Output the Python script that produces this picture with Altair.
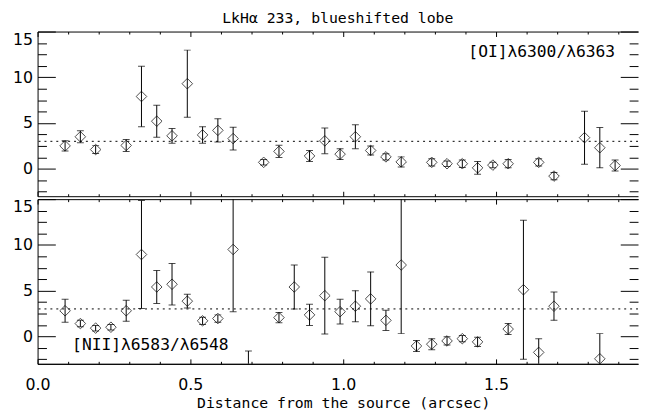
import altair as alt
import pandas as pd

# ---------------- data ----------------
top_x = [0.09, 0.14, 0.19, 0.29, 0.34, 0.39, 0.44, 0.49, 0.54, 0.59, 0.64, 0.74, 0.79,
         0.89, 0.94, 0.99, 1.04, 1.09, 1.14, 1.19, 1.29, 1.34, 1.39, 1.44, 1.49, 1.54,
         1.64, 1.69, 1.79, 1.84, 1.89]
top_y = [2.5, 3.5, 2.1, 2.55, 7.9, 5.2, 3.6, 9.3, 3.7, 4.2, 3.3, 0.7, 1.9,
         1.4, 3.05, 1.6, 3.5, 2.0, 1.3, 0.75, 0.7, 0.55, 0.55, 0.1, 0.4, 0.55,
         0.7, -0.8, 3.4, 2.3, 0.35]
top_err = [0.55, 0.65, 0.43, 0.65, 3.3, 1.75, 0.8, 3.67, 0.9, 1.27, 1.25, 0.3, 0.66,
           0.6, 1.4, 0.6, 1.3, 0.5, 0.35, 0.55, 0.4, 0.3, 0.4, 0.7, 0.3, 0.45,
           0.4, 0.4, 2.9, 2.2, 0.6]

bot_x = [0.09, 0.14, 0.19, 0.24, 0.29, 0.34, 0.39, 0.44, 0.49, 0.54, 0.59, 0.64, 0.69,
         0.79, 0.84, 0.89, 0.94, 0.99, 1.04, 1.09, 1.14, 1.19, 1.24, 1.29, 1.34, 1.39,
         1.44, 1.54, 1.59, 1.64, 1.69, 1.84]
bot_y = [2.8, 1.4, 0.9, 1.0, 2.8, 8.95, 5.4, 5.7, 3.85, 1.7, 1.95, 9.5, -4.0,
         2.05, 5.4, 2.35, 4.45, 2.7, 3.3, 4.1, 1.75, 7.8, -1.05, -0.85, -0.5, -0.25,
         -0.6, 0.8, 5.1, -1.75, 3.3, -2.45]
bot_err = [1.25, 0.35, 0.3, 0.3, 1.15, 5.9, 1.8, 2.27, 0.75, 0.4, 0.4, 6.8, 2.4,
           0.55, 2.4, 1.16, 4.2, 1.35, 1.7, 2.95, 1.1, 7.5, 0.6, 0.6, 0.45, 0.35,
           0.5, 0.6, 7.6, 1.5, 1.55, 2.75]

ref_level = [3]

title_text = "LkHα 233, blueshifted lobe"
top_note = "[OI]λ6300/λ6363"
bot_note = "[NII]λ6583/λ6548"
x_title = "Distance from the source (arcsec)"

x_major = [0, 0.5, 1.0, 1.5]
x_minor = [0.1, 0.2, 0.3, 0.4, 0.6, 0.7, 0.8, 0.9, 1.1, 1.2, 1.3, 1.4, 1.6, 1.7, 1.8, 1.9]
y_major = [0, 5, 10, 15]
y_minor = [-2.5, -1.25, 1.25, 2.5, 3.75, 6.25, 7.5, 8.75, 11.25, 12.5, 13.75]

# ---------------- layout / style ----------------
FONT = "DejaVu Sans"
TFONT = "DejaVu Sans Mono"
W = 609
H = 167
XDOM = [0, 1.965]
YDOM = [-3, 15]

xs = alt.Scale(domain=XDOM, nice=False, zero=False)
ys = alt.Scale(domain=YDOM, nice=False, zero=False)


def tick_axis(orient, offset, values, size, domain=False):
    return alt.Axis(orient=orient, offset=offset, values=values, tickSize=size,
                    ticks=True, labels=False, domain=domain, grid=False, title=None,
                    tickColor="black", tickWidth=1, domainColor="black", domainWidth=1)


def y_label_axis():
    return alt.Axis(orient="left", values=y_major, ticks=False, tickSize=0, domain=True,
                    domainColor="black", grid=False, labelFontSize=16, labelFont=FONT,
                    labelColor="black", labelPadding=5, labelFlush=True, title=None)


def x_label_axis():
    return alt.Axis(orient="bottom", values=x_major, format=".1f", ticks=False, tickSize=0,
                    domain=True, domainColor="black", grid=False, labelFontSize=16,
                    labelFont=FONT, labelColor="black", labelPadding=13, labelFlush=False,
                    title=x_title, titleFont=TFONT, titleFontSize=15, titleFontWeight="normal",
                    titleColor="black", titlePadding=3, titleX=310)


def panel(xv, yv, ev, note, note_x, note_y, note_align, title=None, xlabels=False):
    df = pd.DataFrame({"x": xv, "y": yv, "err": ev})
    base = alt.Chart(df).transform_calculate(lo="datum.y - datum.err", hi="datum.y + datum.err")

    bars = base.mark_rule(color="black", strokeWidth=1, clip=True).encode(
        x=alt.X("x:Q", scale=xs, axis=x_label_axis() if xlabels else None),
        y=alt.Y("lo:Q", scale=ys, axis=y_label_axis()),
        y2="hi:Q",
    )
    caps_lo = base.mark_tick(orient="horizontal", size=7, thickness=1, color="black",
                             clip=True).encode(
        x=alt.X("x:Q", scale=xs, axis=tick_axis("top", -H, x_major, 5, domain=True)),
        y=alt.Y("lo:Q", scale=ys, axis=tick_axis("right", -W, y_major, 18)),
    )
    caps_hi = base.mark_tick(orient="horizontal", size=7, thickness=1, color="black",
                             clip=True).encode(
        x=alt.X("x:Q", scale=xs, axis=tick_axis("top", -H, x_minor, 2.5)),
        y=alt.Y("hi:Q", scale=ys, axis=tick_axis("right", -W, y_minor, 9)),
    )
    pts = base.mark_point(shape="diamond", filled=False, size=115, color="black",
                          strokeWidth=1, clip=True).encode(
        x=alt.X("x:Q", scale=xs, axis=tick_axis("bottom", -H, x_major, 5, domain=True)),
        y=alt.Y("y:Q", scale=ys, axis=tick_axis("left", -W, y_major, 18)),
    )
    ndf = pd.DataFrame({"x": [note_x], "y": [note_y], "t": [note]})
    txt = alt.Chart(ndf).mark_text(font=TFONT, fontSize=16.5, color="black", align=note_align,
                                   baseline="middle").encode(
        x=alt.X("x:Q", scale=xs, axis=tick_axis("bottom", -H, x_minor, 2.5)),
        y=alt.Y("y:Q", scale=ys, axis=tick_axis("left", -W, y_minor, 9)),
        text="t:N",
    )
    ref = alt.Chart(pd.DataFrame({"y": ref_level})).mark_rule(
        color="black", strokeWidth=1, strokeDash=[2, 4]).encode(
        y=alt.Y("y:Q", scale=ys, axis=None))

    props = dict(width=W, height=H)
    if title is not None:
        props["title"] = alt.TitleParams(title, font=TFONT, fontSize=15, fontWeight="normal",
                                         color="black", offset=5, anchor="middle")
    return alt.layer(ref, bars, caps_lo, caps_hi, pts, txt).properties(**props).resolve_axis(
        x="independent", y="independent")


top = panel(top_x, top_y, top_err, top_note, 1.89, 12.75, "right", title=title_text)
bottom = panel(bot_x, bot_y, bot_err, bot_note, 0.113, -0.93, "left", xlabels=True)

chart = alt.vconcat(top, bottom, spacing=1).properties(
    padding={"left": 4, "top": 0, "right": 0, "bottom": 0}
).configure_view(stroke=None).configure_axis(grid=False)

chart.save("out.html", embed_options={"renderer": "svg", "actions": False})
